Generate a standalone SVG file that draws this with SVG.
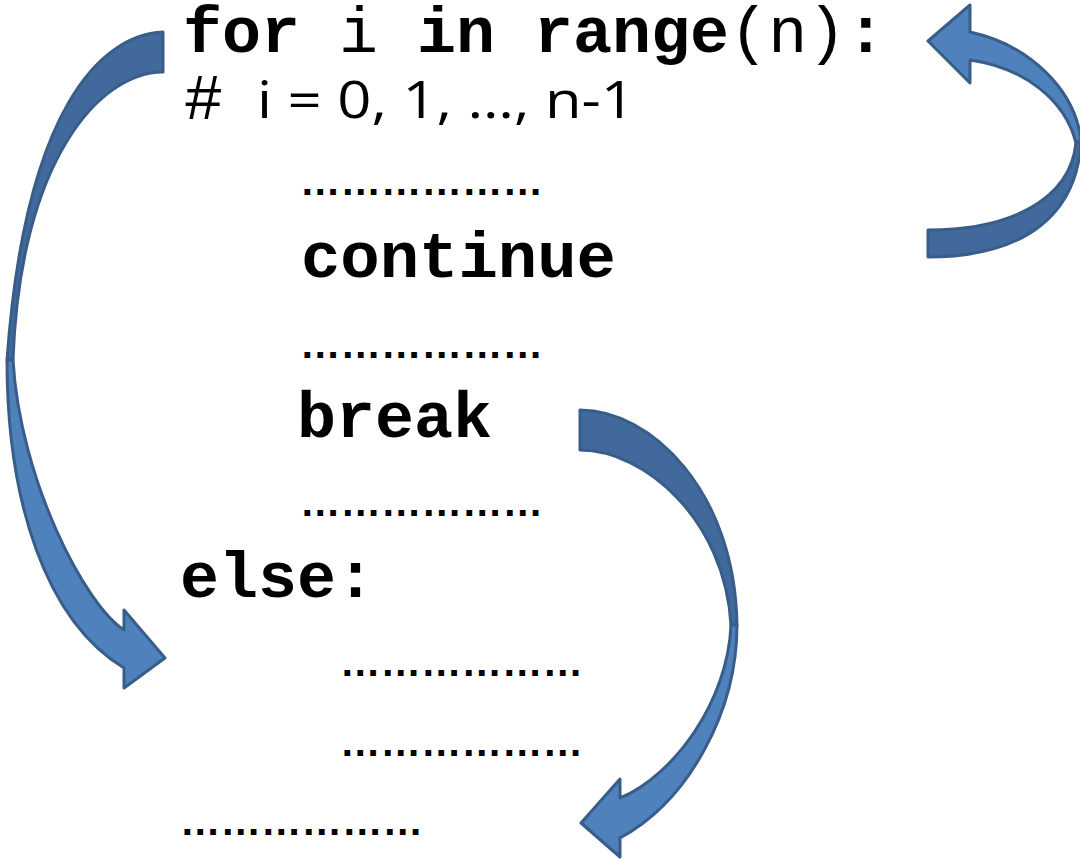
<svg xmlns="http://www.w3.org/2000/svg" width="1080" height="859" viewBox="0 0 1080 859">
<style>
.code{font-family:"Liberation Mono","Courier New",monospace;font-size:65px;fill:#000}
.b{font-weight:bold}
.n{font-weight:normal}
.cal{font-family:"Open Sans","Noto Sans",sans-serif;font-size:52px;fill:#000}
.dots{font-family:"Liberation Sans",Arial,sans-serif;font-size:40.5px;font-weight:bold;fill:#000}
.back{fill:#42699b;stroke:#385d8a;stroke-width:3;stroke-linejoin:round}
.front{fill:#4f81bd;stroke:#385d8a;stroke-width:3;stroke-linejoin:round}
</style>
<rect width="1080" height="859" fill="#fff"/>
<g id="code">
<text class="code b" x="183" y="52">for<tspan class="n"> i </tspan>in range<tspan class="n">(n)</tspan>:</text>
<text class="code n" x="184" y="119" font-size="50">#</text>
<text class="cal" x="257" y="118" textLength="378" lengthAdjust="spacingAndGlyphs">i = 0, 1, …, n-1</text>
<text class="dots" x="300" y="195">………………</text>
<text class="code b" x="301" y="277" textLength="315" lengthAdjust="spacingAndGlyphs">continue</text>
<text class="dots" x="300" y="358">………………</text>
<text class="code b" x="297" y="437">break</text>
<text class="dots" x="300" y="516">………………</text>
<text class="code b" x="180" y="597">else:</text>
<text class="dots" x="340" y="676">………………</text>
<text class="dots" x="340" y="756">………………</text>
<text class="dots" x="180" y="835">………………</text>
</g>
<g id="connectors">
<g id="arrow-else">
<path class="back" d="M163,32 C100,35 25,110 7,360 L13,360 C20,160 100,72 163,72 Z"/>
<path class="front" d="M7,360 C7,500 45,620 124,668 L124,688 L165,658 L124,610 L124,630 C85,605 20,480 13,360 Z"/>
</g>
<g id="arrow-break">
<path class="back" d="M580,410 C650,410 735,490 737,625 L731,625 C725,520 645,450 580,450 Z"/>
<path class="front" d="M737,625 C737,710 690,800 620,838 L620,857 L581,823 L620,779 L620,798 C675,775 728,700 731,625 Z"/>
</g>
<g id="arrow-continue">
<path class="back" d="M1081,140 C1078,210 1030,257 928,257 L928,230 C1010,230 1070,200 1076,143 Z"/>
<path class="front" d="M970,32 C1030,45 1075,90 1081,140 L1076,143 C1065,100 1025,68 970,60 L970,83 L928,41 L970,5 Z"/>
</g>
</g>
</svg>
